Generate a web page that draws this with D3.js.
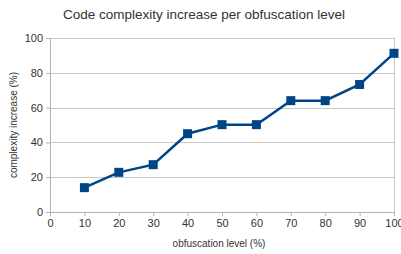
<!DOCTYPE html>
<html>
<head>
<meta charset="utf-8">
<script src="https://cdn.jsdelivr.net/npm/d3@7"></script>
<style>
  body { margin: 0; background: #fff; }
  svg text { font-family: "Liberation Sans", Arial, sans-serif; fill: #333; }
</style>
</head>
<body>
<div id="chart"></div>
<script>
// DATA
var levels = [10, 20, 30, 40, 50, 60, 70, 80, 90, 100];
var complexity = [14, 22.8, 27.2, 45, 50.2, 50.2, 64, 64, 73.3, 91.2];
var xTicks = [0, 10, 20, 30, 40, 50, 60, 70, 80, 90, 100];
var yTicks = [0, 20, 40, 60, 80, 100];

var W = 401, H = 254;
var margin = {top: 38, right: 7, bottom: 42, left: 50};
var width = W - margin.left - margin.right,
    height = H - margin.top - margin.bottom;

var svg = d3.select("#chart").append("svg")
  .attr("width", W)
  .attr("height", H);

var xScale = d3.scaleLinear().domain([0, 100]).range([0, width]);
var yScale = d3.scaleLinear().domain([0, 100]).range([height, 0]);

var g = svg.append("g")
  .attr("transform", `translate(${margin.left}, ${margin.top})`);

// gridlines
g.selectAll("line.grid")
  .data(yTicks)
  .enter().append("line")
  .attr("class", "grid")
  .attr("x1", 0).attr("x2", width)
  .attr("y1", function(d) { return Math.round(yScale(d)) + 0.5; })
  .attr("y2", function(d) { return Math.round(yScale(d)) + 0.5; })
  .attr("stroke", "#c8c8c8");

// right border
g.append("line")
  .attr("x1", width + 0.5).attr("x2", width + 0.5)
  .attr("y1", 0).attr("y2", height)
  .attr("stroke", "#c8c8c8");

// axes
var xAxis = d3.axisBottom(xScale).tickValues(xTicks).tickSize(4).tickPadding(3);
var yAxis = d3.axisLeft(yScale).tickValues(yTicks).tickSize(4).tickPadding(3);

var gx = g.append("g")
  .attr("transform", `translate(0, ${height})`)
  .call(xAxis);
var gy = g.append("g").call(yAxis);

[gx, gy].forEach(function(a) {
  a.select(".domain").attr("stroke", "#b3b3b3");
  a.selectAll(".tick line").attr("stroke", "#b3b3b3");
  a.selectAll(".tick text").style("font-size", "11px").attr("fill", "#333");
});

// line
var line = d3.line()
  .x(function(d, i) { return xScale(levels[i]); })
  .y(function(d) { return yScale(d); });

g.append("path")
  .datum(complexity)
  .attr("fill", "none")
  .attr("stroke", "#004586")
  .attr("stroke-width", 2.5)
  .attr("d", line);

// square markers
g.selectAll("rect.marker")
  .data(complexity)
  .enter().append("rect")
  .attr("class", "marker")
  .attr("x", function(d, i) { return xScale(levels[i]) - 4.5; })
  .attr("y", function(d) { return yScale(d) - 4.5; })
  .attr("width", 9)
  .attr("height", 9)
  .attr("fill", "#004586");

// titles
svg.append("text")
  .attr("x", 204).attr("y", 19)
  .attr("text-anchor", "middle")
  .style("font-size", "13.5px")
  .text("Code complexity increase per obfuscation level");

svg.append("text")
  .attr("x", 219).attr("y", 247)
  .attr("text-anchor", "middle")
  .style("font-size", "10px")
  .text("obfuscation level (%)");

svg.append("text")
  .attr("transform", `translate(17, ${margin.top + height / 2}) rotate(-90)`)
  .attr("text-anchor", "middle")
  .style("font-size", "10px")
  .text("complexity increase (%)");
</script>
</body>
</html>
